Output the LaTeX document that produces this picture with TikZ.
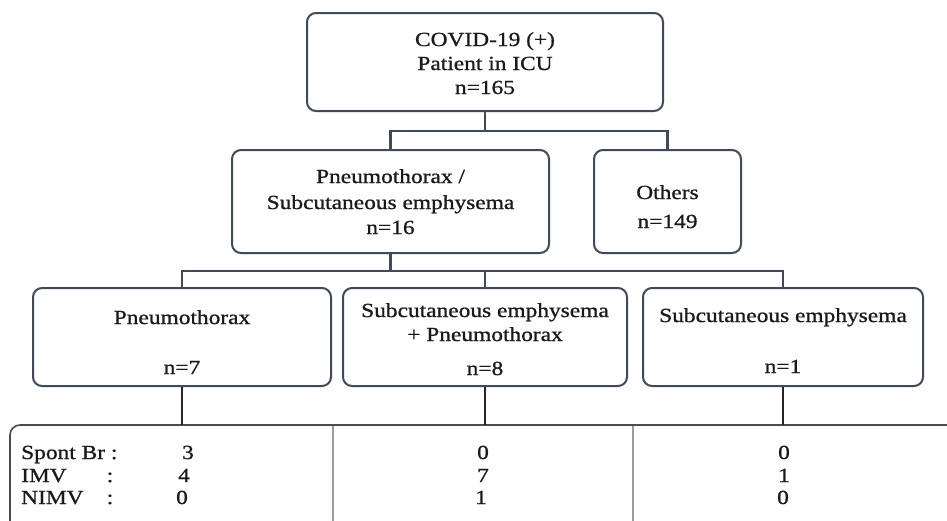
\documentclass[tikz,border=0pt]{standalone}
\usepackage{fontspec}
\setmainfont{Liberation Serif}[FakeStretch=1.17,FakeBold=0.9]
\definecolor{boxc}{HTML}{3F4A5A}
\definecolor{txtc}{HTML}{1A1A1A}
\definecolor{sepc}{HTML}{9A9A9A}
\begin{document}
\begin{tikzpicture}[x=1pt,y=-1pt,
  box/.style={draw=boxc, line width=2pt, rounded corners=9pt, fill=white, inner sep=0pt},
  txt/.style={font=\fontsize{20}{24}\selectfont, text=txtc, inner sep=0pt, anchor=base},
  ltxt/.style={txt, anchor=base west},
  conn/.style={draw=boxc, line width=2.4pt},
  tline/.style={draw=black!85, line width=1.6pt}]
\useasboundingbox (0,0) rectangle (947,520);
\fill[white] (0,0) rectangle (947,520);

% boxes
\node[box, minimum width=356pt, minimum height=98pt] (top) at (485,62) {};
\node[box, minimum width=317pt, minimum height=103pt] (ps) at (390.5,201.5) {};
\node[box, minimum width=147pt, minimum height=103pt] (oth) at (667.5,201.5) {};
\node[box, minimum width=298pt, minimum height=98pt] (b1) at (182,337) {};
\node[box, minimum width=284pt, minimum height=98pt] (b2) at (485,337) {};
\node[box, minimum width=280pt, minimum height=98pt] (b3) at (783,337) {};

% texts
\node[txt] (t1) at (485,46) {COVID-19 (+)};
\node[txt] (t2) at (485,70) {Patient in ICU};
\node[txt] (t3) at (485,94) {n=165};
\node[txt] (p1) at (390.5,183) {Pneumothorax /};
\node[txt] (p2) at (390.5,209) {Subcutaneous emphysema};
\node[txt] (p3) at (390.5,234) {n=16};
\node[txt] (o1) at (667.5,199) {Others};
\node[txt] (o2) at (667.5,228) {n=149};
\node[txt] (c1) at (182,324) {Pneumothorax};
\node[txt] (c2) at (182,374) {n=7};
\node[txt] (d1) at (485,317) {Subcutaneous emphysema};
\node[txt] (d2) at (485,341) {+ Pneumothorax};
\node[txt] (d3) at (485,375) {n=8};
\node[txt] (e1) at (783,322) {Subcutaneous emphysema};
\node[txt] (e2) at (783,373) {n=1};

% connectors level 1
\coordinate (h1) at (485,131);
\draw[conn] (top.south) -- (h1);
\draw[conn] (ps.north) -- (ps.north |- h1) -- (oth.north |- h1) -- (oth.north);
% connectors level 2
\coordinate (h2) at (390.5,271);
\draw[conn] (ps.south) -- (h2);
\draw[conn] (b1.north) -- (b1.north |- h2) -- (b3.north |- h2) -- (b3.north);
\draw[conn] (b2.north) -- (b2.north |- h2);

% table
\coordinate (tt) at (0,425);
\begin{scope}
\clip (0,0) rectangle (947,520);
\draw[draw=black!70, line width=1.6pt, rounded corners=10pt] (960,425) -- (10,425) -- (10,540);
\draw[draw=sepc, line width=1.5pt] (333,426) -- (333,530);
\draw[draw=sepc, line width=1.5pt] (633,426) -- (633,530);
\end{scope}
\draw[tline] (b1.south) -- (b1.south |- tt);
\draw[tline] (b2.south) -- (b2.south |- tt);
\draw[tline] (b3.south) -- (b3.south |- tt);

% table texts
\node[ltxt] (r1) at (21,459) {Spont Br :};
\node[ltxt] (r2) at (21,482) {IMV};
\node[ltxt] (r3) at (21,504) {NIMV};
\node[txt] (k2) at (110,482) {:};
\node[txt] (k3) at (110,504) {:};
\node[txt] (n11) at (188,459) {3};
\node[txt] (n12) at (184,482) {4};
\node[txt] (n13) at (182,504) {0};
\node[txt] (n21) at (483,459) {0};
\node[txt] (n22) at (483,482) {7};
\node[txt] (n23) at (481,504) {1};
\node[txt] (n31) at (784,459) {0};
\node[txt] (n32) at (784,482) {1};
\node[txt] (n33) at (783,504) {0};
\end{tikzpicture}
\end{document}
